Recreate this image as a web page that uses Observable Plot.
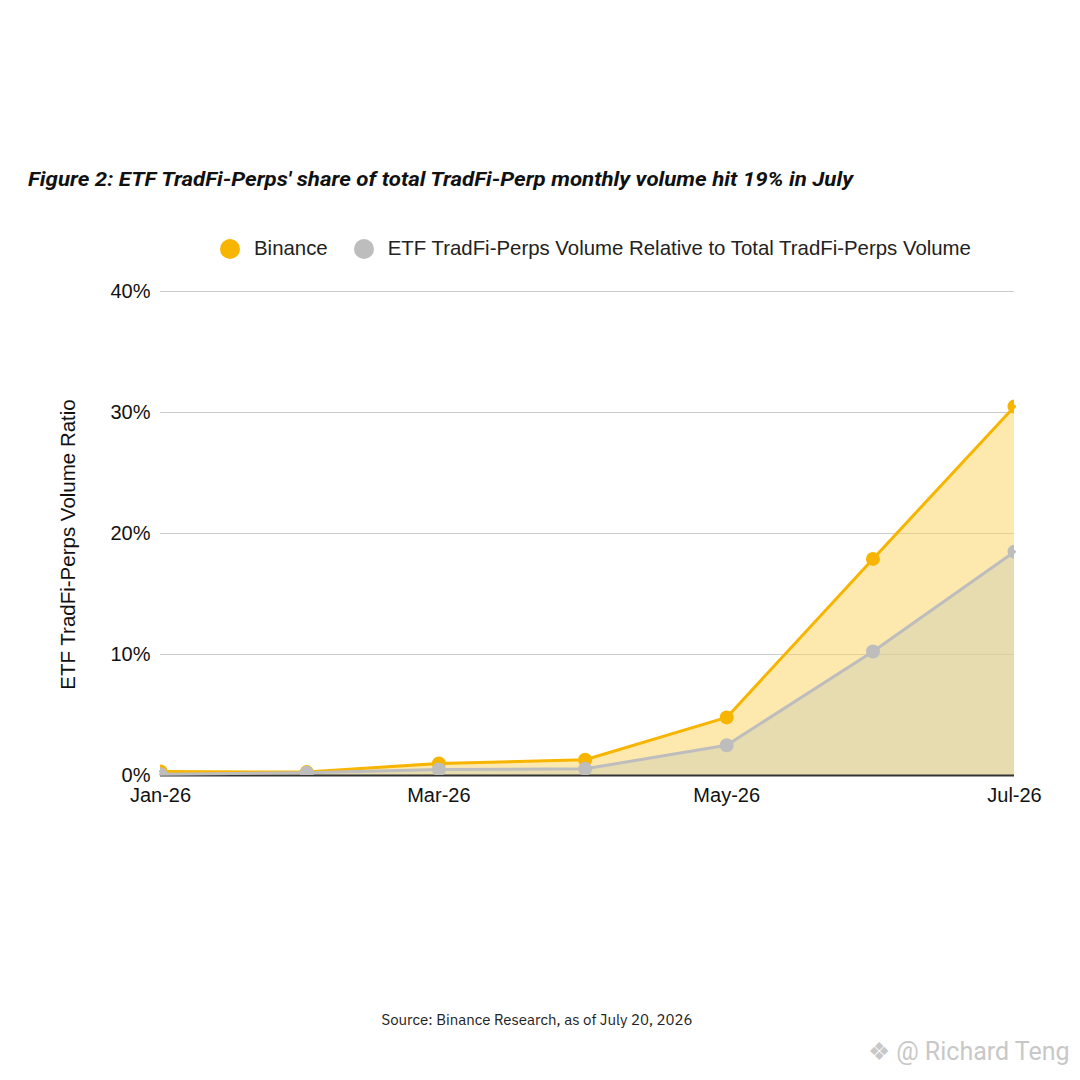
<!DOCTYPE html>
<html><head><meta charset="utf-8">
<script src="https://cdn.jsdelivr.net/npm/d3@7"></script>
<script src="https://cdn.jsdelivr.net/npm/@observablehq/plot@0.6"></script>
<style>
body{margin:0;background:#fff;width:1080px;height:1080px;position:relative;overflow:hidden;font-family:"Liberation Sans",Arial,sans-serif;color:#111;}
#title{position:absolute;left:28px;top:164px;}
#legend{position:absolute;top:237px;left:220px;font-size:20.4px;display:flex;align-items:center;white-space:nowrap;color:#222;}
#legend .sw{width:20px;height:20px;border-radius:50%;display:inline-block;margin-right:14px;}
#legend .item{display:flex;align-items:center;margin-right:26px;}
#chart{position:absolute;left:0;top:260px;}
#source{position:absolute;top:1010px;left:0;width:1074px;text-align:center;font-family:"IBM Plex Sans","Noto Sans",sans-serif;font-size:15px;color:#222;}
#wm{position:absolute;top:1037px;left:868px;font-family:"Roboto","Noto Sans",sans-serif;font-size:25px;color:#c8c8c8;white-space:nowrap;}
</style></head><body>
<svg id="title" width="860" height="32"><text x="0" y="22" font-family="Liberation Sans Narrow, Roboto, sans-serif" font-weight="bold" font-style="italic" font-size="20" fill="#111" textLength="825" lengthAdjust="spacingAndGlyphs">Figure 2: ETF TradFi-Perps' share of total TradFi-Perp monthly volume hit 19% in July</text></svg>
<div id="legend"></div>
<div id="chart"></div>
<div id="source">Source: Binance Research, as of July 20, 2026</div>
<div id="wm">❖ @ Richard Teng</div>
<script>
const months = ["2026-01-01","2026-02-01","2026-03-01","2026-04-01","2026-05-01","2026-06-01","2026-07-01"];
const binance = [0.33, 0.28, 1.0, 1.3, 4.8, 17.9, 30.5];
const etfShare = [0.1, 0.22, 0.5, 0.55, 2.5, 10.25, 18.5];
const yTicks = [0, 10, 20, 30, 40];
const xTicks = ["2026-01-01","2026-03-01","2026-05-01","2026-07-01"];
const seriesNames = ["Binance", "ETF TradFi-Perps Volume Relative to Total TradFi-Perps Volume"];
const seriesColors = ["#f7b500", "#bdbdbd"];
const yLabel = "ETF TradFi-Perps Volume Ratio";

const parse = d3.utcParse("%Y-%m-%d");
const dB = months.map((m, i) => ({date: parse(m), v: binance[i]}));
const dE = months.map((m, i) => ({date: parse(m), v: etfShare[i]}));

const legend = document.getElementById("legend");
seriesNames.forEach((n, i) => {
  const it = document.createElement("div");
  it.className = "item";
  it.innerHTML = `<span class="sw" style="background:${seriesColors[i]}"></span><span>${n}</span>`;
  legend.appendChild(it);
});

const chart = Plot.plot({
  width: 1080,
  height: 575,
  marginTop: 31,
  marginBottom: 60,
  marginLeft: 160,
  marginRight: 66,
  style: {fontSize: "20px", fontFamily: "Liberation Sans, Arial, sans-serif", color: "#111", background: "transparent"},
  x: {type: "utc", domain: [parse(months[0]), parse(months[months.length - 1])]},
  y: {domain: [0, 40]},
  marks: [
    Plot.gridY(yTicks, {stroke: "#cccccc", strokeOpacity: 1, strokeWidth: 1.2}),
    Plot.areaY(dB, {x: "date", y: "v", fill: "#fbd15d", fillOpacity: 0.5}),
    Plot.areaY(dE, {x: "date", y: "v", fill: "#cfd0b2", fillOpacity: 0.5}),
    Plot.ruleY([0], {stroke: "#333", strokeWidth: 2}),
    Plot.lineY(dB, {x: "date", y: "v", stroke: seriesColors[0], strokeWidth: 3}),
    Plot.dot(dB, {x: "date", y: "v", fill: seriesColors[0], r: 7, clip: true}),
    Plot.lineY(dE, {x: "date", y: "v", stroke: seriesColors[1], strokeWidth: 3}),
    Plot.dot(dE, {x: "date", y: "v", fill: seriesColors[1], r: 7, clip: true}),
    Plot.axisY(yTicks, {tickSize: 0, tickPadding: 10, tickFormat: d => d + "%", fontSize: 20, label: null}),
    Plot.text([yLabel], {text: d => d, frameAnchor: "left", textAnchor: "middle", lineAnchor: "middle", rotate: -90, dx: -92, dy: 11, fontSize: 20.5, fill: "#111"}),
    Plot.axisX(xTicks.map(parse), {tickSize: 0, tickPadding: 12, tickFormat: d3.utcFormat("%b-%y"), fontSize: 20, label: null})
  ]
});
document.getElementById("chart").appendChild(chart);
</script>
</body></html>
